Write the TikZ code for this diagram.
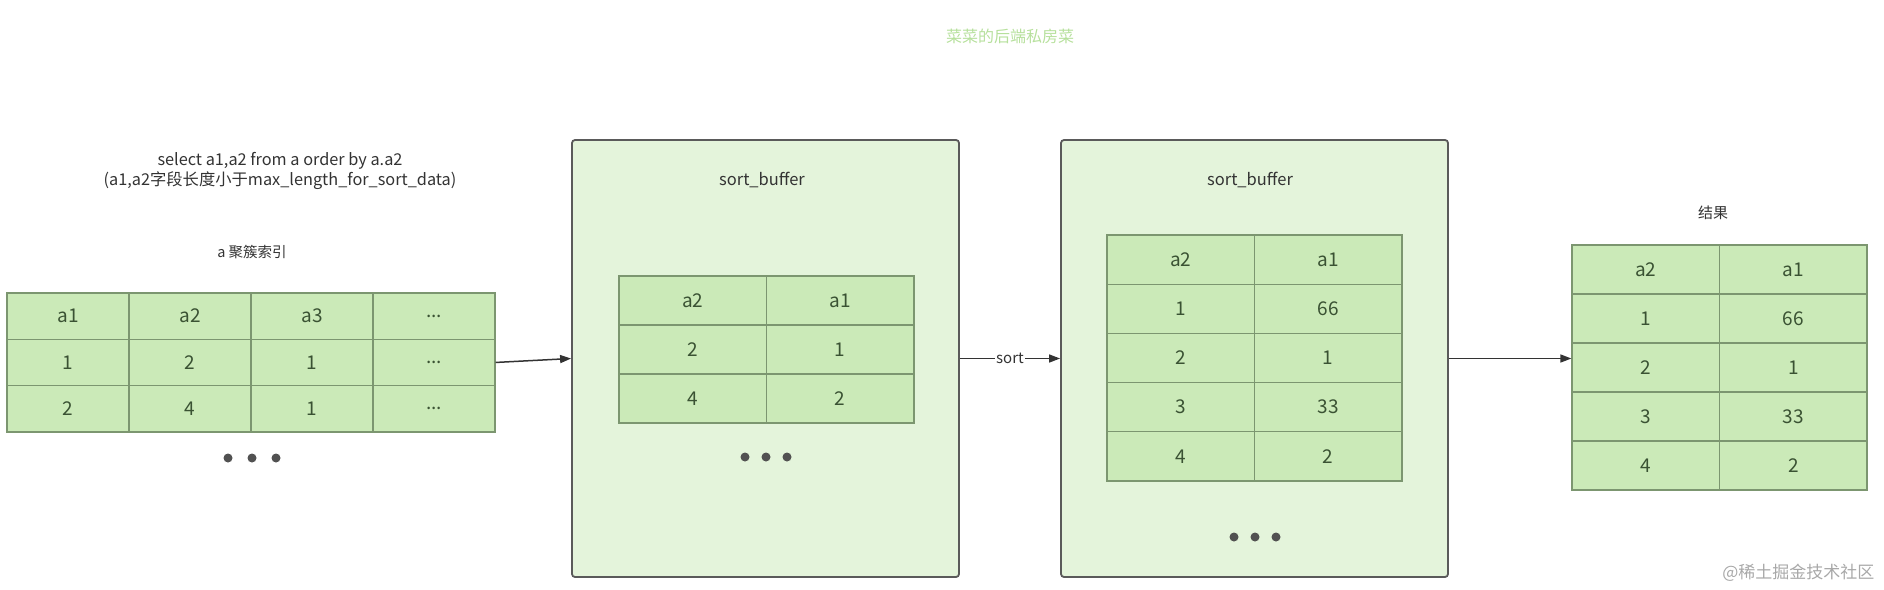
\documentclass[tikz,border=0pt]{standalone}
\usepackage{fontspec}
\setmainfont{Noto Sans CJK SC}
\usetikzlibrary{arrows.meta}
\definecolor{cellfill}{HTML}{CBEAB8}
\definecolor{cellborder}{HTML}{7C9670}
\definecolor{celltext}{HTML}{3A5233}
\definecolor{boxfill}{HTML}{E4F4DB}
\definecolor{boxborder}{HTML}{5A5A5A}
\definecolor{lbltext}{HTML}{333333}
\definecolor{titlegreen}{HTML}{B6E09C}
\definecolor{wmgray}{HTML}{A8A8A8}
\def\dd{...}
\newcommand\trow[7]{%
  \foreach \txt [count=\c] in {#7} {
    \node[cell, minimum width=#4pt, minimum height=#5pt] (#1-#6-\c)
      at ({#2+(\c-0.5)*#4},{#3+(#6-0.5)*#5}) {\txt};
  }}
\begin{document}
\begin{tikzpicture}[x=1pt,y=-1pt,
  cell/.style={draw=cellborder, fill=cellfill, text=celltext, line width=1.2pt,
    inner sep=0pt, font=\fontsize{19}{22}\selectfont},
  bufbox/.style={draw=boxborder, fill=boxfill, line width=1.8pt, rounded corners=3pt,
    inner sep=0pt, minimum width=387pt, minimum height=437pt},
  lbl/.style={text=lbltext, inner sep=1pt, font=\fontsize{16.5}{19}\selectfont, align=center},
  conn/.style={draw=lbltext, line width=1.5pt, -{Triangle[length=11pt,width=8pt]}},
  dot/.style={circle, fill=boxborder!90!black, inner sep=0pt, minimum size=9pt}]
\useasboundingbox (0,0) rectangle (1884,589);

% title and watermark
\node[text=titlegreen, font=\fontsize{16}{18}\selectfont] (title) at (1010,36) {菜菜的后端私房菜};
\node[text=wmgray, font=\fontsize{17}{20}\selectfont, anchor=east] (wm) at (1878,573) {@稀土掘金技术社区};

% left: clustered index
\node[lbl, font=\fontsize{16.3}{20}\selectfont] (sql) at (280,171)
  {select a1,a2 from a order by a.a2\\(a1,a2字段长度小于max\_length\_for\_sort\_data)};
\node[lbl, font=\fontsize{14.5}{18}\selectfont] (idxlbl) at (252,252) {a 聚簇索引};
\trow{L}{7}{293}{122}{46.3}{1}{a1,a2,a3,\dd}
\trow{L}{7}{293}{122}{46.3}{2}{1,2,1,\dd}
\trow{L}{7}{293}{122}{46.3}{3}{2,4,1,\dd}
\node[dot] (ld1) at (228,458) {};
\node[dot] (ld2) at (252,458) {};
\node[dot] (ld3) at (276,458) {};

% sort buffer 1
\node[bufbox] (box1) at (765.5,358.5) {};
\node[lbl] (sb1) at (762,180) {sort\_buffer};
\trow{A}{619}{276}{147.5}{49}{1}{a2,a1}
\trow{A}{619}{276}{147.5}{49}{2}{2,1}
\trow{A}{619}{276}{147.5}{49}{3}{4,2}
\node[dot] (ad1) at (745,457) {};
\node[dot] (ad2) at (766,457) {};
\node[dot] (ad3) at (787,457) {};

% sort buffer 2
\node[bufbox] (box2) at (1254.5,358.5) {};
\node[lbl] (sb2) at (1250,180) {sort\_buffer};
\trow{B}{1107}{235}{147.5}{49.2}{1}{a2,a1}
\trow{B}{1107}{235}{147.5}{49.2}{2}{1,66}
\trow{B}{1107}{235}{147.5}{49.2}{3}{2,1}
\trow{B}{1107}{235}{147.5}{49.2}{4}{3,33}
\trow{B}{1107}{235}{147.5}{49.2}{5}{4,2}
\node[dot] (bd1) at (1234,537) {};
\node[dot] (bd2) at (1255,537) {};
\node[dot] (bd3) at (1276,537) {};

% result
\node[lbl, font=\fontsize{15}{18}\selectfont] (reslbl) at (1713,213) {结果};
\trow{R}{1572}{245}{147.5}{49}{1}{a2,a1}
\trow{R}{1572}{245}{147.5}{49}{2}{1,66}
\trow{R}{1572}{245}{147.5}{49}{3}{2,1}
\trow{R}{1572}{245}{147.5}{49}{4}{3,33}
\trow{R}{1572}{245}{147.5}{49}{5}{4,2}

% connectors
\draw[conn] (L-2-4.east) -- (box1.west);
\draw[conn] (box1.east) -- node[fill=white, inner sep=1pt, text=lbltext,
  font=\fontsize{15}{18}\selectfont] (sortlbl) {sort} (box2.west);
\draw[conn] (box2.east) -- (box2.east -| R-3-1.west);
\end{tikzpicture}
\end{document}
